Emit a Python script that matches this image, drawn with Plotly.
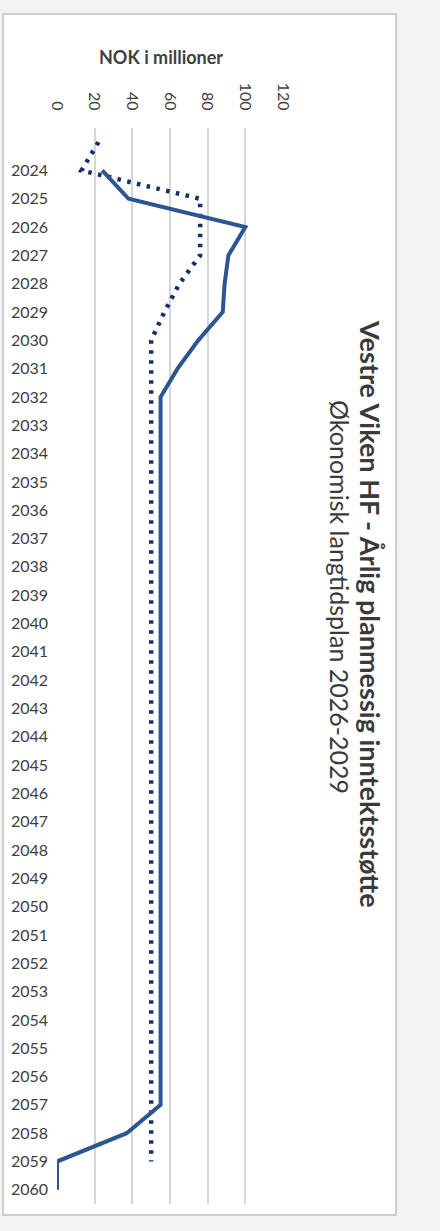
import plotly.graph_objects as go

# Year axis (category labels shown on the left)
tick_years = [2024, 2025, 2026, 2027, 2028, 2029, 2030, 2031, 2032, 2033,
              2034, 2035, 2036, 2037, 2038, 2039, 2040, 2041, 2042, 2043,
              2044, 2045, 2046, 2047, 2048, 2049, 2050, 2051, 2052, 2053,
              2054, 2055, 2056, 2057, 2058, 2059, 2060]
tick_labels = [str(y) for y in tick_years]

# Solid series (NOK million per year)
solid_years = [2024, 2025, 2026, 2027, 2028, 2029, 2030, 2031, 2032, 2033,
               2034, 2035, 2036, 2037, 2038, 2039, 2040, 2041, 2042, 2043,
               2044, 2045, 2046, 2047, 2048, 2049, 2050, 2051, 2052, 2053,
               2054, 2055, 2056, 2057, 2058, 2059, 2060]
solid_values = [24, 38, 100, 91, 89, 88, 75, 64, 55, 55,
                55, 55, 55, 55, 55, 55, 55, 55, 55, 55,
                55, 55, 55, 55, 55, 55, 55, 55, 55, 55,
                55, 55, 55, 55, 37, 0, 0]

# Dotted series (NOK million per year)
dotted_years = [2023, 2024, 2025, 2026, 2027, 2028, 2029, 2030, 2031, 2032,
                2033, 2034, 2035, 2036, 2037, 2038, 2039, 2040, 2041, 2042,
                2043, 2044, 2045, 2046, 2047, 2048, 2049, 2050, 2051, 2052,
                2053, 2054, 2055, 2056, 2057, 2058, 2059]
dotted_values = [22, 13, 76, 76, 76, 65, 57, 50, 50, 50,
                 50, 50, 50, 50, 50, 50, 50, 50, 50, 50,
                 50, 50, 50, 50, 50, 50, 50, 50, 50, 50,
                 50, 50, 50, 50, 50, 50, 50]

title_main = "Vestre Viken HF - Årlig planmessig inntektsstøtte"
title_sub = "Økonomisk langtidsplan 2026-2029"
value_axis_title = "NOK i millioner"

W, H = 440, 1231
ML, MR, MT, MB = 57, 157, 128, 27
PW, PH = W - ML - MR, H - MT - MB


def px(x):
    return (x - ML) / PW


def py(y):
    return (H - MB - y) / PH


FONT = "Lato, 'Open Sans', sans-serif"
TXT = "#404040"

fig = go.Figure()
fig.add_trace(go.Scatter(
    x=dotted_values, y=dotted_years, mode="lines",
    line=dict(color="#14306a", width=4.5, dash="3.5px,6.5px"),
    hoverinfo="x+y",
))
fig.add_trace(go.Scatter(
    x=solid_values, y=solid_years, mode="lines",
    line=dict(color="#2c5592", width=4),
    hoverinfo="x+y",
))

fig.update_layout(
    width=W, height=H,
    margin=dict(l=ML, r=MR, t=MT, b=MB, pad=0),
    paper_bgcolor="#f3f3f3",
    plot_bgcolor="rgba(0,0,0,0)",
    showlegend=False,
    font=dict(family=FONT, color=TXT),
    xaxis=dict(
        side="top", range=[0, 120], tickvals=[0, 20, 40, 60, 80, 100, 120],
        tickangle=90, tickfont=dict(size=16, color=TXT),
        showgrid=True, gridcolor="#d6d6d6", gridwidth=1.5,
        zeroline=False, showline=False, ticks="",
        ticklabelstandoff=14,
    ),
    yaxis=dict(
        range=[2060.5, 2022.5], tickvals=tick_years, ticktext=tick_labels,
        tickfont=dict(size=16, color=TXT),
        showgrid=False, zeroline=False, showline=False, ticks="",
        ticklabelstandoff=8,
    ),
    shapes=[dict(
        type="rect", xref="paper", yref="paper", layer="below",
        x0=px(3), x1=px(396), y0=py(14), y1=py(1215),
        fillcolor="white", line=dict(color="#cdcdcd", width=2),
    )],
    annotations=[
        dict(text=f"<b>{value_axis_title}</b>", xref="paper", yref="paper",
             x=px(161), y=py(57), xanchor="center", yanchor="middle",
             showarrow=False, font=dict(size=18, color=TXT, family=FONT)),
        dict(text=f"<b>{title_main}</b>", xref="paper", yref="paper",
             x=px(371), y=py(614), xanchor="center", yanchor="middle",
             showarrow=False, textangle=90,
             font=dict(size=27, color="#3a3a3a", family=FONT)),
        dict(text=title_sub, xref="paper", yref="paper",
             x=px(340), y=py(597), xanchor="center", yanchor="middle",
             showarrow=False, textangle=90,
             font=dict(size=25, color="#3a3a3a", family=FONT)),
    ],
)

fig.write_html("out.html")
